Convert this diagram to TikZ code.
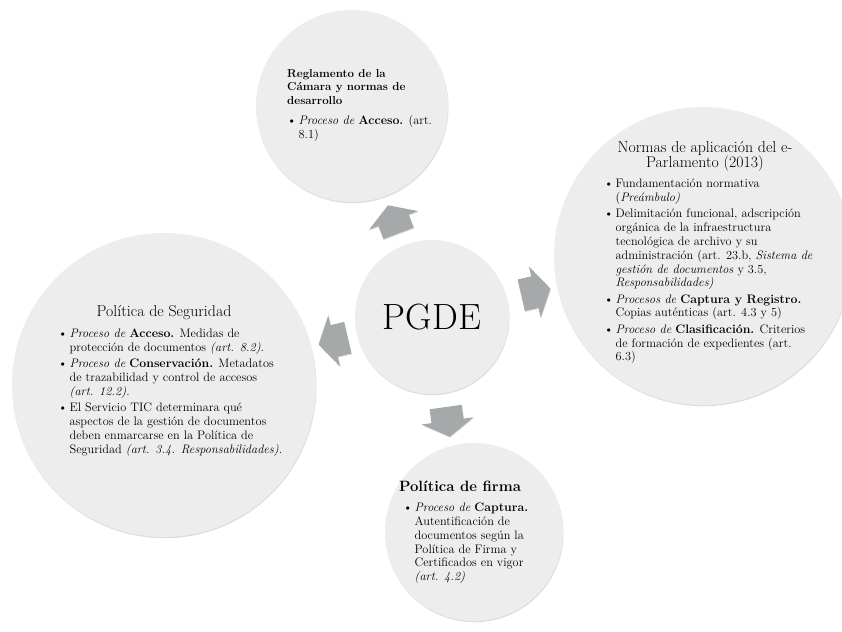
\documentclass[tikz,border=0pt]{standalone}
\usetikzlibrary{shapes.arrows,shadows}
\pgfdeclarelayer{edgelayer}
\pgfdeclarelayer{nodelayer}
\pgfsetlayers{edgelayer,nodelayer,main}
\definecolor{bubblefill}{RGB}{237,237,237}
\definecolor{arrowgray}{RGB}{166,169,169}
\tikzstyle{bubble}=[circle, fill=bubblefill, inner sep=0pt, drop shadow={shadow xshift=0.5pt, shadow yshift=-1.2pt, opacity=0.3, fill=black!45}]
\tikzstyle{blockarrow}=[single arrow, fill=arrowgray, inner sep=0pt, inner ysep=16pt, minimum height=30pt, single arrow head extend=10pt, single arrow tip angle=117, drop shadow={shadow xshift=0.5pt, shadow yshift=-1pt, opacity=0.25}]
\tikzstyle{body}=[inner sep=0pt, align=left, anchor=north west, font=\fontsize{12.3}{13.8}\selectfont]
\tikzstyle{title}=[inner sep=0pt, align=center, font=\fontsize{15.8}{15}\selectfont]
\newcommand{\bul}{\textbullet\,}
\newcommand{\indnt}{\hphantom{\textbullet\,}}

\begin{document}
\begin{tikzpicture}[x=1pt, y=1pt]
	\useasboundingbox (0, 0) rectangle (842, 631);
	\begin{pgfonlayer}{edgelayer}
	\node [style=bubble, minimum size=154pt] (pgde) at (432, 314) {};
	\node [style=bubble, minimum size=192pt] (reglamento) at (352, 525) {};
	\node [style=bubble, minimum size=298pt] (normas) at (703, 375) {};
	\node [style=bubble, minimum size=304pt] (seguridad) at (164, 246) {};
	\node [style=bubble, minimum size=178pt] (firma) at (474, 99) {};
	\node [style=blockarrow, rotate=110.7] (toreglamento) at (395, 407) {};
	\node [style=blockarrow, rotate=13] (tonormas) at (531, 338) {};
	\node [style=blockarrow, rotate=193] (toseguridad) at (338, 291) {};
	\node [style=blockarrow, rotate=-82] (tofirma) at (447, 214) {};
	\end{pgfonlayer}
	\begin{pgfonlayer}{nodelayer}
	\node [font=\fontsize{36.5}{40}\selectfont] (pgdetxt) at (pgde) {PGDE};
	% Reglamento
	\node [style=body, font=\fontsize{11.5}{13.5}\selectfont\bfseries] (reglamentohead) at (287, 562) {Reglamento de la\\ Cámara y normas de\\ desarrollo};
	\node [style=body] (reglamentotxt) at (287, 516) {\bul\textit{Proceso de} \textbf{Acceso.} (art.\\ \indnt 8.1)};
	% Normas
	\node [style=title] (normashead) at (705, 475) {Normas de aplicación del e-\\ Parlamento (2013)};
	\node [style=body] (normastxt) at (604, 452) {\bul Fundamentación normativa\\
		\indnt(\textit{Preámbulo)}\\[2.5pt]
		\bul Delimitación funcional, adscripción\\
		\indnt orgánica de la infraestructura\\
		\indnt tecnológica de archivo y su\\
		\indnt administración (art. 23.b, \textit{Sistema de}\\
		\indnt\textit{gestión de documentos} y 3.5,\\
		\indnt\textit{Responsabilidades)}\\[2.5pt]
		\bul\textit{Procesos de} \textbf{Captura y Registro.}\\
		\indnt Copias auténticas (art. 4.3 y 5)\\[2.5pt]
		\bul\textit{Proceso de} \textbf{Clasificación.} Criterios\\
		\indnt de formación de expedientes (art.\\
		\indnt 6.3)};
	% Seguridad
	\node [style=title] (seguridadhead) at (164, 318) {Política de Seguridad};
	\node [style=body, font=\fontsize{12.3}{14}\selectfont] (seguridadtxt) at (58, 302) {\bul\textit{Proceso de} \textbf{Acceso.} Medidas de\\
		\indnt protección de documentos \textit{(art. 8.2)}.\\[1.8pt]
		\bul\textit{Proceso de} \textbf{Conservación.} Metadatos\\
		\indnt de trazabilidad y control de accesos\\
		\indnt\textit{(art. 12.2)}.\\[1.8pt]
		\bul El Servicio TIC determinara qué\\
		\indnt aspectos de la gestión de documentos\\
		\indnt deben enmarcarse en la Política de\\
		\indnt Seguridad \textit{(art. 3.4. Responsabilidades)}.};
	% Firma
	\node [style=title, font=\fontsize{14.9}{15}\selectfont\bfseries] (firmahead) at (460, 145) {Política de firma};
	\node [style=body] (firmatxt) at (403, 128) {\bul\textit{Proceso de} \textbf{Captura.}\\
		\indnt Autentificación de\\
		\indnt documentos según la\\
		\indnt Política de Firma y\\
		\indnt Certificados en vigor\\
		\indnt\textit{(art. 4.2)}};
	\end{pgfonlayer}
\end{tikzpicture}
\end{document}
